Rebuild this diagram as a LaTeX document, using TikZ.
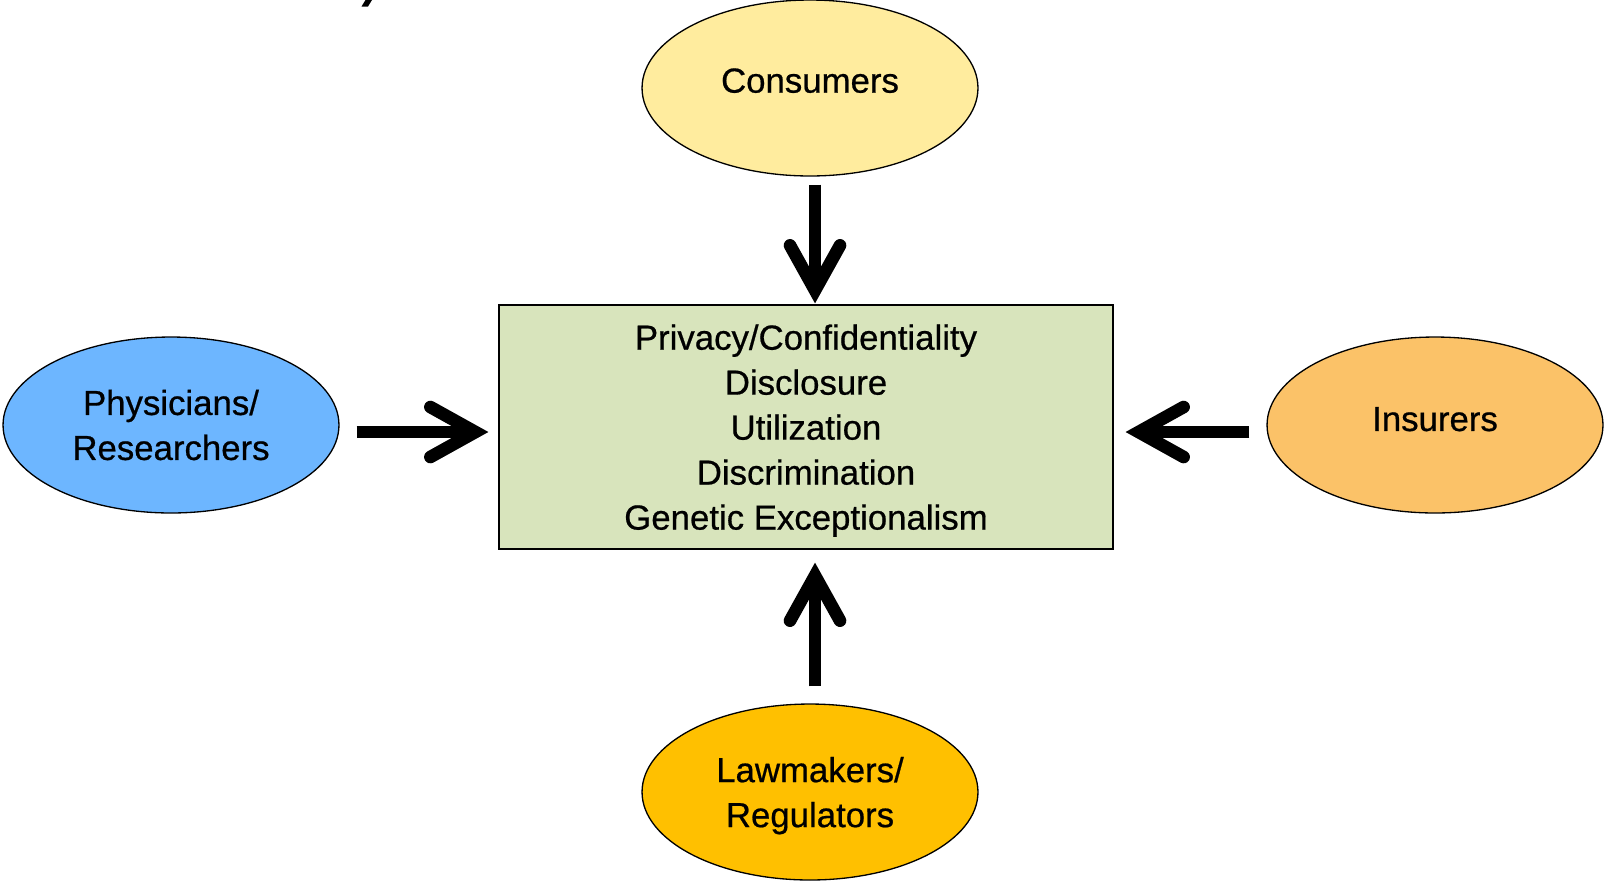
\documentclass[tikz,border=0pt]{standalone}
\usepackage{fontspec}
\setmainfont{Liberation Sans}[FakeBold=0.6]
\usetikzlibrary{arrows.meta,shapes.geometric}

\definecolor{consyellow}{HTML}{FFEC9E}
\definecolor{physblue}{HTML}{6DB6FF}
\definecolor{insorange}{HTML}{FBC268}
\definecolor{lawgold}{HTML}{FFC000}
\definecolor{issuegreen}{HTML}{D8E4BC}

\tikzset{
  party/.style={ellipse,draw,line width=0.75pt,minimum width=6.72cm,
    minimum height=3.52cm,inner sep=0pt,align=center,
    font=\fontsize{19.8}{25.6}\selectfont},
  issues/.style={draw,line width=0.75pt,fill=issuegreen,minimum width=12.28cm,
    minimum height=4.88cm,inner sep=0pt,align=center,
    font=\fontsize{19.8}{25.6}\selectfont},
  push/.style={line width=7.2pt,
    -{Straight Barb[length=0.9cm,width=1.0cm,line cap=round,line join=miter]}}
}

\begin{document}
\begin{tikzpicture}[x=0.02cm,y=-0.02cm]
  \useasboundingbox (0,0) rectangle (1604,880);
  % cut-off stroke at the top
  \fill (361.5,6.5)--(368,6.5)--(372,0)--(365.5,0)--cycle;

  \node[issues,text depth=-1.5pt] (box) at (806,427)
    {Privacy/Confidentiality\\Disclosure\\Utilization\\Discrimination\\Genetic Exceptionalism};
  \node[party,fill=consyellow,text depth=0.3cm] (cons) at (810,88) {Consumers};
  \node[party,fill=physblue] (phys) at (171,425) {Physicians/\\Researchers};
  \node[party,fill=insorange,text depth=0.24cm] (ins) at (1435,425) {Insurers};
  \node[party,fill=lawgold,text depth=-0.4pt] (law) at (810,792) {Lawmakers/\\Regulators};

  % everybody pushes on the issues
  \draw[push] ([shift={(5,8)}]cons.south) -- ([shift={(9,-1)}]box.north);
  \draw[push] ([shift={(17,7)}]phys.east) -- ([shift={(-10,5)}]box.west);
  \draw[push] ([shift={(-17,7)}]ins.west) -- ([shift={(12,5)}]box.east);
  \draw[push] ([shift={(5,-17)}]law.north) -- ([shift={(9,13)}]box.south);
\end{tikzpicture}
\end{document}
